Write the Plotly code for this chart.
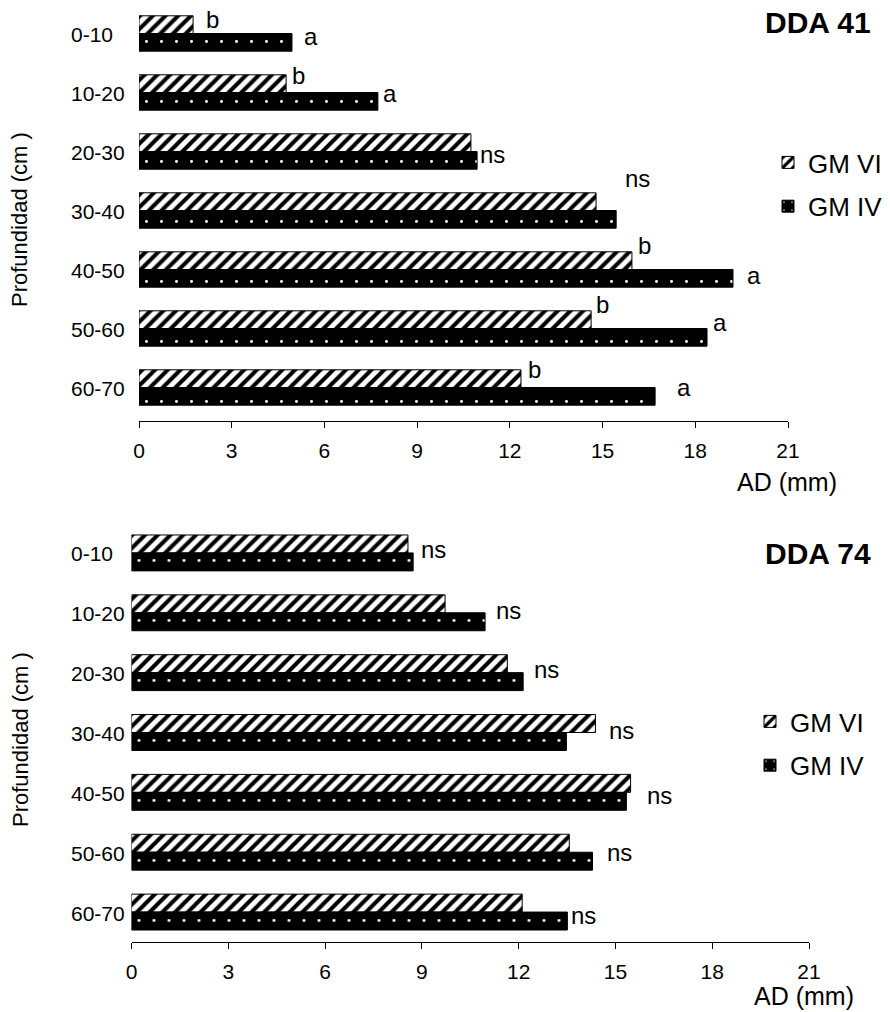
import plotly.graph_objects as go

depths = ["0-10", "10-20", "20-30", "30-40", "40-50", "50-60", "60-70"]
series_names = ["GM VI", "GM IV"]

top_vi = [1.75, 4.76, 10.74, 14.79, 15.95, 14.63, 12.36]
top_iv = [4.95, 7.73, 10.94, 15.44, 19.22, 18.38, 16.70]
bot_vi = [8.57, 9.72, 11.65, 14.38, 15.47, 13.57, 12.11]
bot_iv = [8.73, 10.96, 12.14, 13.48, 15.34, 14.29, 13.51]

top_letters_vi = ["b", "b", "", "", "b", "b", "b"]
top_letters_iv = ["a", "a", "ns", "ns", "a", "a", "a"]
bot_letters = ["ns", "ns", "ns", "ns", "ns", "ns", "ns"]

titles = ["DDA 41", "DDA 74"]
x_ticks = [0, 3, 6, 9, 12, 15, 18, 21]

# label placement (pixels)
top_vi_dx = [19, 12, 0, 0, 13, 11, 14]
top_vi_dy = [14, 17, 0, 0, 24, 24, 18]
top_iv_dx = [19, 12, 15, 21, 21, 13, 29]
top_iv_dy = [-3, -1, -3, 32, -6, 6, 0]
bot_dx = [20, 23, 23, 26, 29, 27, 16]
bot_dy = [3, 2, 3, 2, -3, 0, -3]

FONT = "Arial, Liberation Sans, sans-serif"
W, H = 890, 1012

vi_marker = dict(color="white", line=dict(color="black", width=1),
                 pattern=dict(shape="/", bgcolor="white", fgcolor="black",
                              size=9, solidity=0.45, fillmode="replace"))
iv_marker = dict(color="black", line=dict(color="black", width=1),
                 pattern=dict(shape=".", bgcolor="black", fgcolor="white",
                              size=15, solidity=0.03, fillmode="replace"))

fig = go.Figure()
panels = [
    (top_vi, top_iv, "x", "y", "legend"),
    (bot_vi, bot_iv, "x2", "y2", "legend2"),
]
for vi, iv, xa, ya, lg in panels:
    fig.add_trace(go.Bar(y=depths, x=vi, orientation="h", name=series_names[0],
                         marker=vi_marker, xaxis=xa, yaxis=ya, legend=lg,
                         legendgroup=lg + "a"))
    fig.add_trace(go.Bar(y=depths, x=iv, orientation="h", name=series_names[1],
                         marker=iv_marker, xaxis=xa, yaxis=ya, legend=lg,
                         legendgroup=lg + "b"))

ann = []
for i, d in enumerate(depths):
    if top_letters_vi[i]:
        ann.append(dict(x=top_vi[i], y=d, xref="x", yref="y", text=top_letters_vi[i],
                        xanchor="center", yanchor="middle", xshift=top_vi_dx[i],
                        yshift=top_vi_dy[i], showarrow=False, font=dict(size=24)))
    if top_letters_iv[i]:
        ann.append(dict(x=top_iv[i], y=d, xref="x", yref="y", text=top_letters_iv[i],
                        xanchor="center", yanchor="middle", xshift=top_iv_dx[i],
                        yshift=top_iv_dy[i], showarrow=False, font=dict(size=24)))
    ann.append(dict(x=max(bot_vi[i], bot_iv[i]), y=d, xref="x2", yref="y2", text=bot_letters[i],
                    xanchor="center", yanchor="middle", xshift=bot_dx[i],
                    yshift=bot_dy[i], showarrow=False, font=dict(size=24)))
    # depth labels (left aligned, as in the reference)
    for yref in ("y", "y2"):
        ann.append(dict(x=69 / W, y=d, xref="paper", yref=yref, text=d,
                        xanchor="left", yanchor="middle", yshift=-1, showarrow=False,
                        font=dict(size=21)))

# titles
ann.append(dict(x=873 / W, y=1 - 23 / H, xref="paper", yref="paper", text="<b>" + titles[0] + "</b>",
                xanchor="right", yanchor="middle", showarrow=False, font=dict(size=30)))
ann.append(dict(x=873 / W, y=1 - 553 / H, xref="paper", yref="paper", text="<b>" + titles[1] + "</b>",
                xanchor="right", yanchor="middle", showarrow=False, font=dict(size=30)))
# x titles
ann.append(dict(x=839 / W, y=1 - 482 / H, xref="paper", yref="paper", text="AD (mm)",
                xanchor="right", yanchor="middle", showarrow=False, font=dict(size=25)))
ann.append(dict(x=856 / W, y=1 - 996 / H, xref="paper", yref="paper", text="AD (mm)",
                xanchor="right", yanchor="middle", showarrow=False, font=dict(size=25)))
# y titles
for yc in (220, 740):
    ann.append(dict(x=20 / W, y=1 - yc / H, xref="paper", yref="paper", text="Profundidad (cm )",
                    textangle=-90, xanchor="center", yanchor="middle", showarrow=False,
                    font=dict(size=22)))

xaxis_common = dict(range=[0, 21], tickvals=x_ticks, showgrid=False, zeroline=False,
                    showline=True, linecolor="black", linewidth=1, ticks="outside",
                    ticklen=6, tickcolor="black", tickfont=dict(size=21),
                    ticklabelstandoff=5)
yaxis_common = dict(autorange="reversed", showgrid=False, zeroline=False, showline=False,
                    ticks="", showticklabels=False)

fig.update_layout(
    width=W, height=H,
    margin=dict(l=0, r=0, t=0, b=0, autoexpand=False),
    paper_bgcolor="white", plot_bgcolor="white",
    font=dict(family=FONT, color="black"),
    barmode="group", bargap=0.4, bargroupgap=0,
    xaxis=dict(domain=[139 / W, 788 / W], anchor="y", **xaxis_common),
    yaxis=dict(domain=[1 - 421 / H, 1 - 4 / H], anchor="x", **yaxis_common),
    xaxis2=dict(domain=[131.5 / W, 809 / W], anchor="y2", **xaxis_common),
    yaxis2=dict(domain=[1 - 942 / H, 1 - 523 / H], anchor="x2", **yaxis_common),
    legend=dict(x=768 / W, y=1 - 139 / H, xanchor="left", yanchor="top",
                font=dict(size=26), bgcolor="rgba(0,0,0,0)", tracegroupgap=7),
    legend2=dict(x=750 / W, y=1 - 698 / H, xanchor="left", yanchor="top",
                 font=dict(size=26), bgcolor="rgba(0,0,0,0)", tracegroupgap=7),
    annotations=ann,
    showlegend=True,
)

fig.write_html("out.html")
